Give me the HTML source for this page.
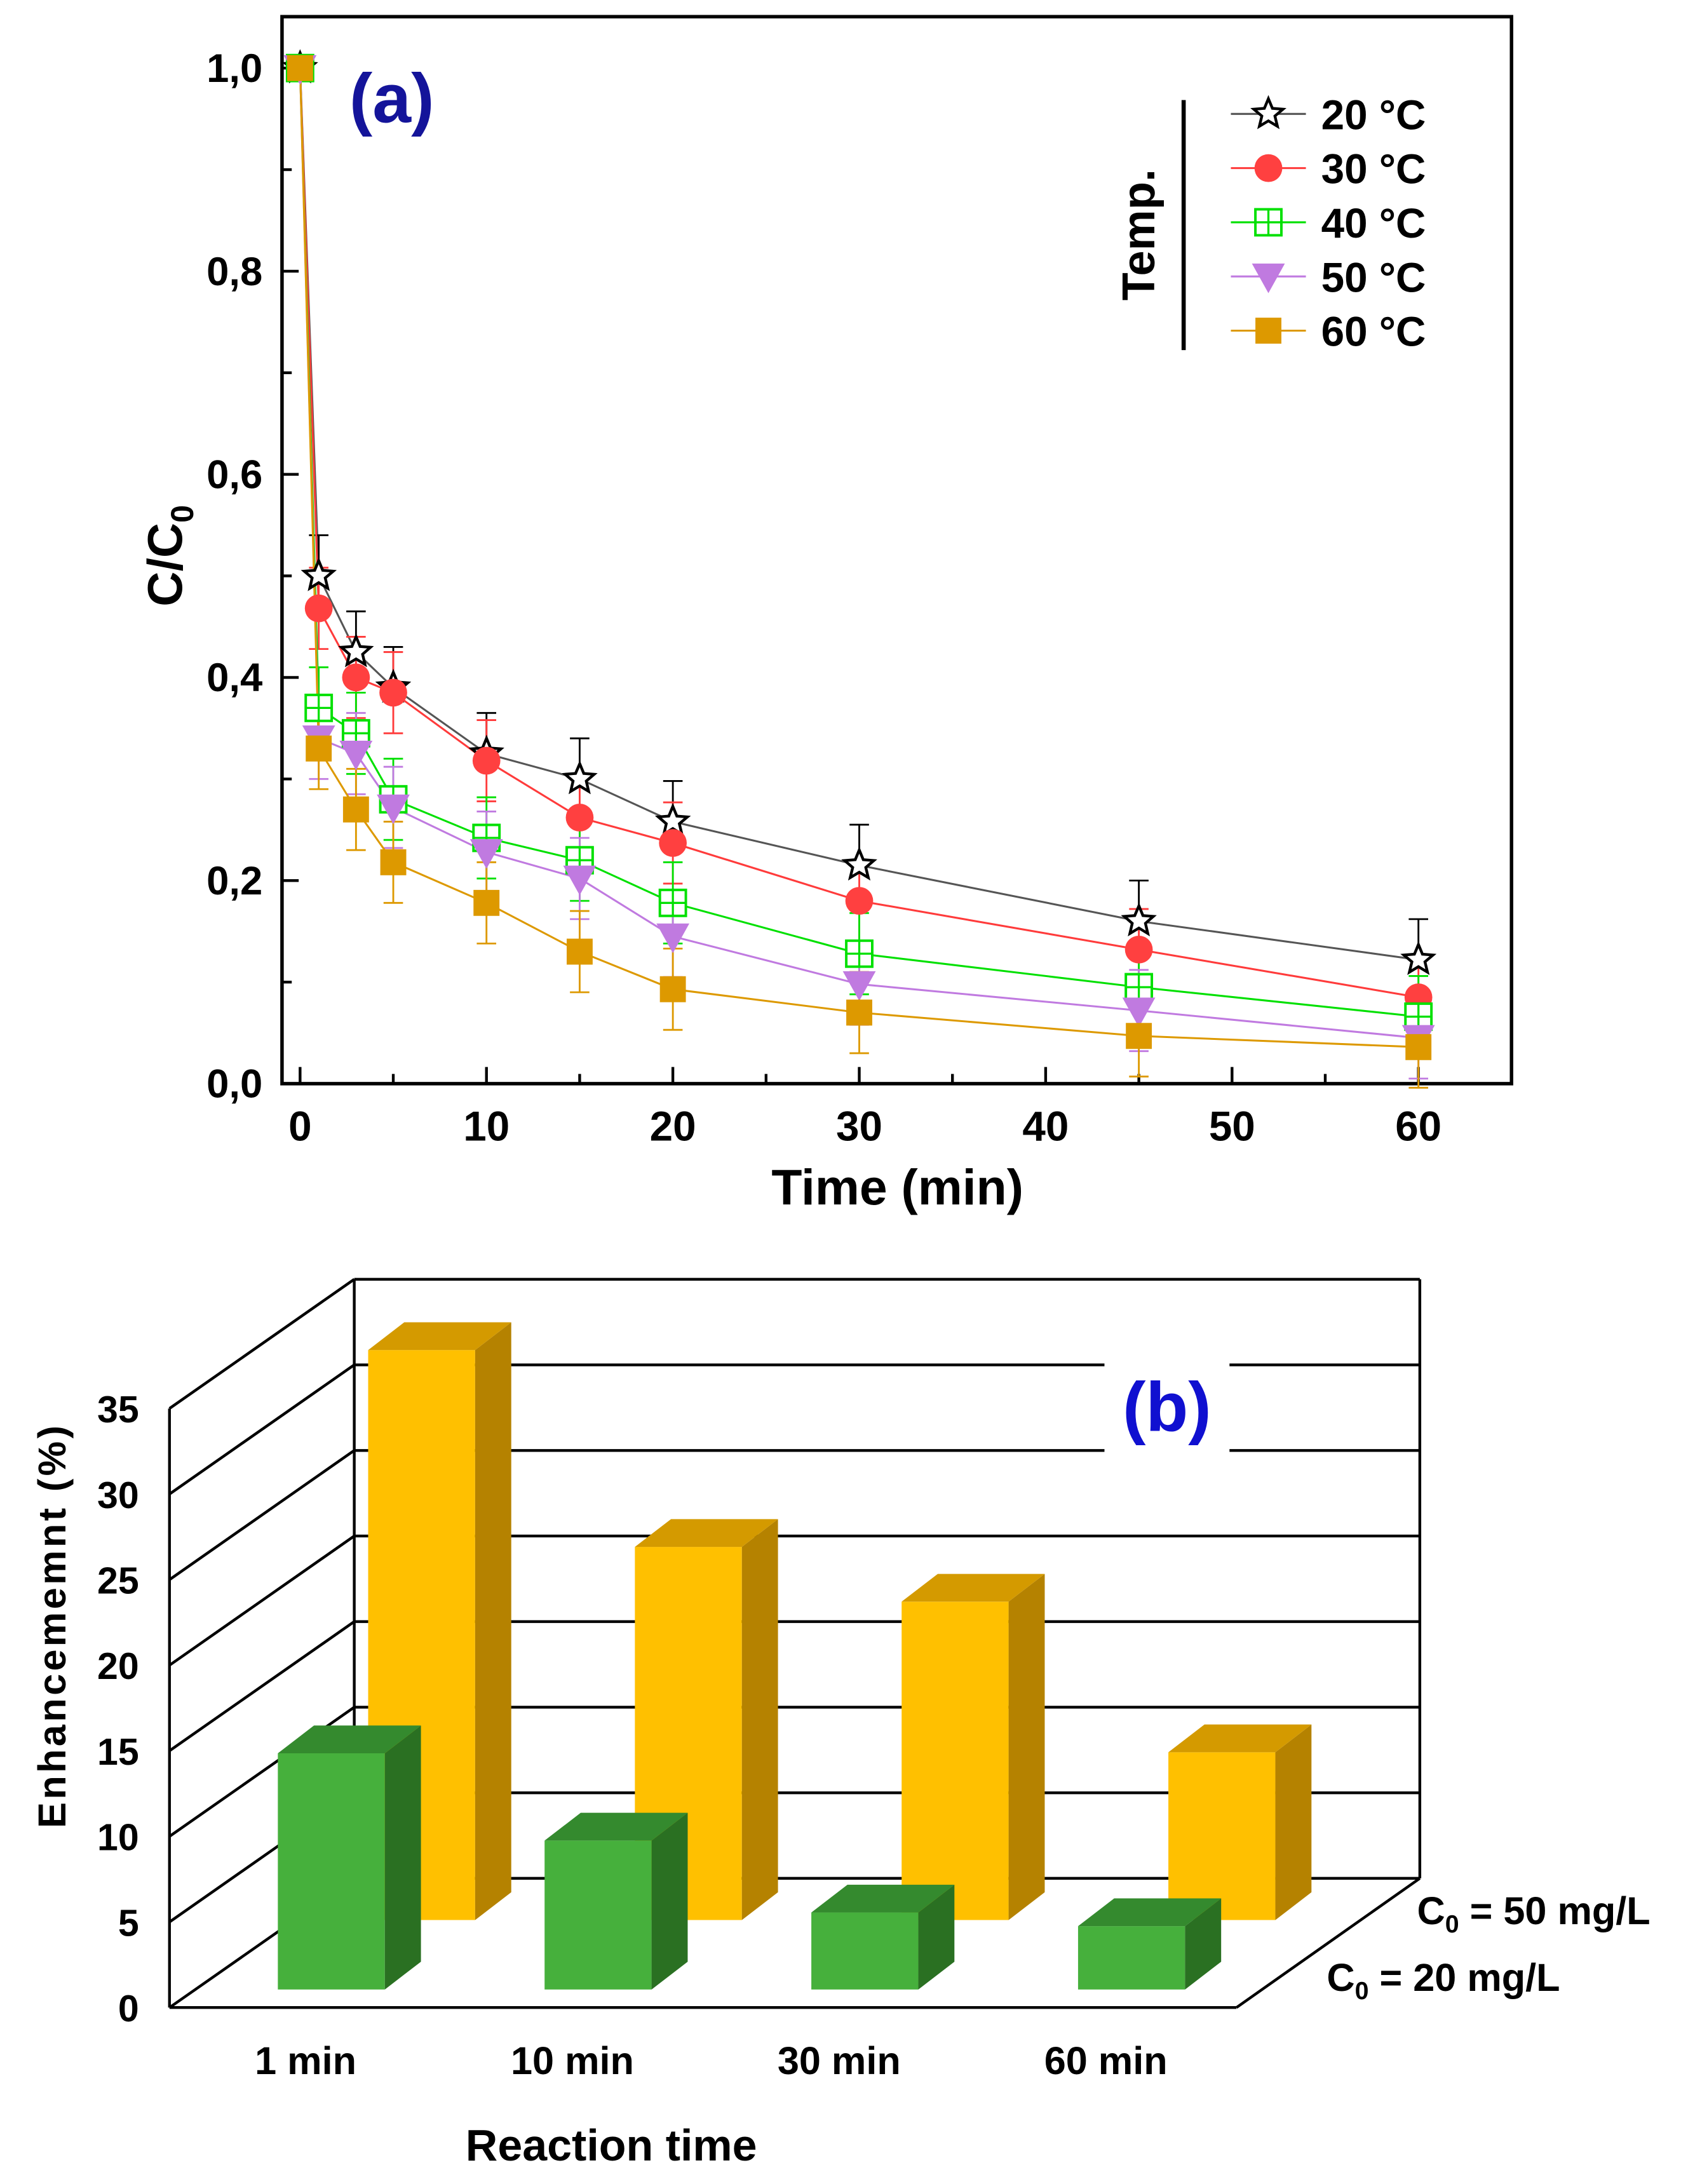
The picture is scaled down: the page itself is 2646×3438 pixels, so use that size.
<!DOCTYPE html>
<html><head><meta charset="utf-8"><style>
html,body{margin:0;padding:0;background:#fff}
svg{display:block}
text{font-family:"Liberation Sans",Arial,sans-serif;font-weight:bold}
</style></head><body>
<svg id="fig" width="2646" height="3438" viewBox="0 0 1210 1572" preserveAspectRatio="none" xmlns="http://www.w3.org/2000/svg">
<g id="pa"></g>
<g id="pb"></g>
</svg>
<script>
// ---------- Panel (a) data ----------
const times = [0,1,3,5,10,15,20,30,45,60];
const s20 = [1,0.50,0.425,0.39,0.325,0.30,0.258,0.215,0.16,0.122];
const s30 = [1,0.468,0.40,0.385,0.318,0.262,0.237,0.18,0.132,0.085];
const s40 = [1,0.37,0.345,0.28,0.242,0.22,0.178,0.128,0.095,0.066];
const s50 = [1,0.34,0.325,0.272,0.228,0.202,0.145,0.098,0.072,0.045];
const s60 = [1,0.33,0.27,0.218,0.178,0.13,0.093,0.07,0.047,0.036];
const errA = [0,0.04,0.04,0.04,0.04,0.04,0.04,0.04,0.04,0.04];
const seriesLabels = ["20 °C","30 °C","40 °C","50 °C","60 °C"];
const xTicksA = [0,10,20,30,40,50,60];
const yTicksA = ["0,0","0,2","0,4","0,6","0,8","1,0"];
const yTickValsA = [0,0.2,0.4,0.6,0.8,1.0];
// ---------- Panel (b) data ----------
const categoriesB = ["1 min","10 min","30 min","60 min"];
const c50 = [33.3,21.8,18.6,9.8];
const c20 = [13.8,8.7,4.5,3.7];
const yTicksB = [0,5,10,15,20,25,30,35];

const NS="http://www.w3.org/2000/svg";
function mk(parent,tag,attrs,txt){const e=document.createElementNS(NS,tag);for(const k in attrs)e.setAttribute(k,attrs[k]);if(txt!==undefined)e.textContent=txt;parent.appendChild(e);return e;}

// ===== Panel (a) =====
const pa=document.getElementById('pa');
const X0=203,X1=1088,Y0=12,Y1=780;
const xa=t=>216+(1021-216)*t/60;
const ya=v=>780-731*v;
let fr=mk(pa,'rect',{x:X0,y:Y0,width:X1-X0,height:Y1-Y0,fill:'none',stroke:'#000','stroke-width':2.5});


for(let v=0;v<=10;v++){const y=ya(v/10);const L=(v%2==0)?12:7;
 mk(pa,'line',{x1:X0,x2:X0+L,y1:y,y2:y,stroke:'#000','stroke-width':2});}
yTickValsA.forEach((v,i)=>{const t=mk(pa,'text',{x:189,y:ya(v)+10,'text-anchor':'end','font-size':29},yTicksA[i]);
 
 });
for(let t=0;t<=60;t+=5){const x=xa(t);const L=(t%10==0)?12:7;
 mk(pa,'line',{x1:x,x2:x,y1:Y1,y2:Y1-L,stroke:'#000','stroke-width':2});}
xTicksA.forEach(t=>{const e=mk(pa,'text',{x:xa(t),y:821,'text-anchor':'middle','font-size':30},String(t));
 
 });
let xt=mk(pa,'text',{x:646,y:867,'text-anchor':'middle','font-size':36},'Time (min)');


let yt=mk(pa,'text',{x:0,y:0,'text-anchor':'middle','font-size':35,transform:'translate(131,400) rotate(-90)'});
yt.innerHTML='C/C<tspan font-size="23" dy="8">0</tspan>';


let la=mk(pa,'text',{x:282,y:88,'text-anchor':'middle','font-size':50,fill:'#14149a'},'(a)');



const colorsA=['#555555','#ff3b3b','#00e000','#c07ae0','#dd9900'];
const errCol=['#000','#ff3b3b','#00e000','#c07ae0','#dd9900'];
const dataA=[s20,s30,s40,s50,s60];
function marker(g,k,x,y,s){
 if(k==0){let p=[];for(let i=0;i<10;i++){const r=i%2?s*0.45:s;const a=-Math.PI/2+i*Math.PI/5;p.push((x+r*Math.cos(a)).toFixed(1)+','+(y+r*Math.sin(a)).toFixed(1));}
  return mk(g,'polygon',{points:p.join(' '),fill:'#fff',stroke:'#000','stroke-width':2});}
 if(k==1)return mk(g,'circle',{cx:x,cy:y,r:s,fill:'#ff4040'});
 if(k==2){const e=mk(g,'g',{});mk(e,'rect',{x:x-s*0.85,y:y-s*0.85,width:s*1.7,height:s*1.7,fill:'#fff',stroke:'#00e000','stroke-width':1.8});
  mk(e,'line',{x1:x,x2:x,y1:y-s*0.85,y2:y+s*0.85,stroke:'#00e000','stroke-width':1.5});
  mk(e,'line',{x1:x-s*0.85,x2:x+s*0.85,y1:y,y2:y,stroke:'#00e000','stroke-width':1.5});return e;}
 if(k==3)return mk(g,'polygon',{points:`${x-s},${y-s*0.8} ${x+s},${y-s*0.8} ${x},${y+s}`,fill:'#c07ae0',stroke:'#c07ae0','stroke-width':1});
 return mk(g,'rect',{x:x-s*0.85,y:y-s*0.85,width:s*1.7,height:s*1.7,fill:'#dd9900'});
}
dataA.forEach((arr,k)=>{
 const g=mk(pa,'g',{});
 
 
 mk(g,'polyline',{points:arr.map((v,i)=>xa(times[i])+','+ya(v)).join(' '),fill:'none',stroke:colorsA[k],'stroke-width':1.4});
 arr.forEach((v,i)=>{if(!errA[i])return;const x=xa(times[i]);
  const top=ya(v+errA[i]),bot=ya(v-errA[i]);
  mk(g,'line',{x1:x,x2:x,y1:top,y2:(k==0?ya(v):bot),stroke:errCol[k],'stroke-width':1.3});
  mk(g,'line',{x1:x-7,x2:x+7,y1:top,y2:top,stroke:errCol[k],'stroke-width':1.3});
  if(k!=0)mk(g,'line',{x1:x-7,x2:x+7,y1:bot,y2:bot,stroke:errCol[k],'stroke-width':1.3});});
});
dataA.forEach((arr,k)=>{arr.forEach((v,i)=>{const m=marker(pa,k,xa(times[i]),ya(v),k==1?10:11);
 
 });});
// legend
const lg=mk(pa,'g',{});


mk(lg,'line',{x1:852,x2:852,y1:72,y2:252,stroke:'#000','stroke-width':3});
let tp=mk(lg,'text',{x:0,y:0,'text-anchor':'middle','font-size':33,transform:'translate(831,169) rotate(-90)'},'Temp.');


seriesLabels.forEach((lab,k)=>{const y=82+39*k;
 const e=mk(lg,'g',{});
 
 
 mk(e,'line',{x1:886,x2:940,y1:y,y2:y,stroke:colorsA[k],'stroke-width':1.4});
 marker(e,k,913,y,k==1?10:11);
 mk(e,'text',{x:951,y:y+11,'font-size':30},lab);});

// ===== Panel (b) =====
const pb=document.getElementById('pb');
const BX0=255,BX1=1022,BY0=1352,UNIT=61.6/5; // back wall
const FX0=122,FY0=1445; // front-left corner
const ybBack=v=>BY0-UNIT*v;
let wall=mk(pb,'g',{});


mk(wall,'line',{x1:BX0,x2:BX0,y1:ybBack(35),y2:BY0,stroke:'#000','stroke-width':2});
mk(wall,'line',{x1:BX0,x2:BX1,y1:ybBack(35),y2:ybBack(35),stroke:'#000','stroke-width':2});
mk(wall,'line',{x1:BX1,x2:BX1,y1:ybBack(35),y2:BY0,stroke:'#000','stroke-width':2});
mk(wall,'line',{x1:FX0,x2:FX0,y1:FY0-UNIT*35,y2:FY0,stroke:'#000','stroke-width':2});
mk(wall,'line',{x1:FX0,x2:890,y1:FY0,y2:FY0,stroke:'#000','stroke-width':2});
mk(wall,'line',{x1:890,x2:BX1,y1:FY0,y2:BY0,stroke:'#000','stroke-width':2});
yTicksB.forEach(v=>{const yb=ybBack(v),yf=FY0-UNIT*v;
 mk(wall,'line',{x1:FX0,x2:BX0,y1:yf,y2:yb,stroke:'#000','stroke-width':2});
 if(v>0&&v<35){ if(v==25||v==30){mk(wall,'line',{x1:BX0,x2:795,y1:yb,y2:yb,stroke:'#000','stroke-width':2});mk(wall,'line',{x1:885,x2:BX1,y1:yb,y2:yb,stroke:'#000','stroke-width':2});}
  else mk(wall,'line',{x1:BX0,x2:BX1,y1:yb,y2:yb,stroke:'#000','stroke-width':2});}
 if(v==0)mk(wall,'line',{x1:BX0,x2:BX1,y1:yb,y2:yb,stroke:'#000','stroke-width':2});
 const t=mk(pb,'text',{x:100,y:yf+10,'text-anchor':'end','font-size':27},String(v));
 
 });
let lb=mk(pb,'text',{x:840,y:1030,'text-anchor':'middle','font-size':50,fill:'#1010d0'},'(b)');


const BW=77,BD=26,BT=20;
function bar3d(x,base,h,cf,cs,ct,name){
 const g=mk(pb,'g',{});
 
 
 const top=base-h;
 mk(g,'rect',{x:x,y:top,width:BW,height:h,fill:cf});
 mk(g,'polygon',{points:`${x+BW},${top} ${x+BW+BD},${top-BT} ${x+BW+BD},${base-BT} ${x+BW},${base}`,fill:cs});
 mk(g,'polygon',{points:`${x},${top} ${x+BD},${top-BT} ${x+BW+BD},${top-BT} ${x+BW},${top}`,fill:ct});
}
c50.forEach((v,i)=>bar3d(265+192*i,1382,v*UNIT,'#ffc000','#b58200','#d49a00','bar-50mgL-'+i));
c20.forEach((v,i)=>bar3d(200+192*i,1432,v*UNIT,'#46b03c','#2a7022','#348a2e','bar-20mgL-'+i));
categoriesB.forEach((c,i)=>{const t=mk(pb,'text',{x:220+192*i,y:1493,'text-anchor':'middle','font-size':28},c);
 
 });
let bxt=mk(pb,'text',{x:440,y:1555,'text-anchor':'middle','font-size':32},'Reaction time');


let byt=mk(pb,'text',{x:0,y:0,'text-anchor':'middle','font-size':28,'letter-spacing':2,transform:'translate(47,1170) rotate(-90)'},'Enhancememnt (%)');


let s1=mk(pb,'text',{x:1020,y:1385,'font-size':28});
s1.innerHTML='C<tspan font-size="18" dy="6">0</tspan><tspan dy="-6"> = 50 mg/L</tspan>';


let s2=mk(pb,'text',{x:955,y:1433,'font-size':28});
s2.innerHTML='C<tspan font-size="18" dy="6">0</tspan><tspan dy="-6"> = 20 mg/L</tspan>';


</script>
</body></html>
